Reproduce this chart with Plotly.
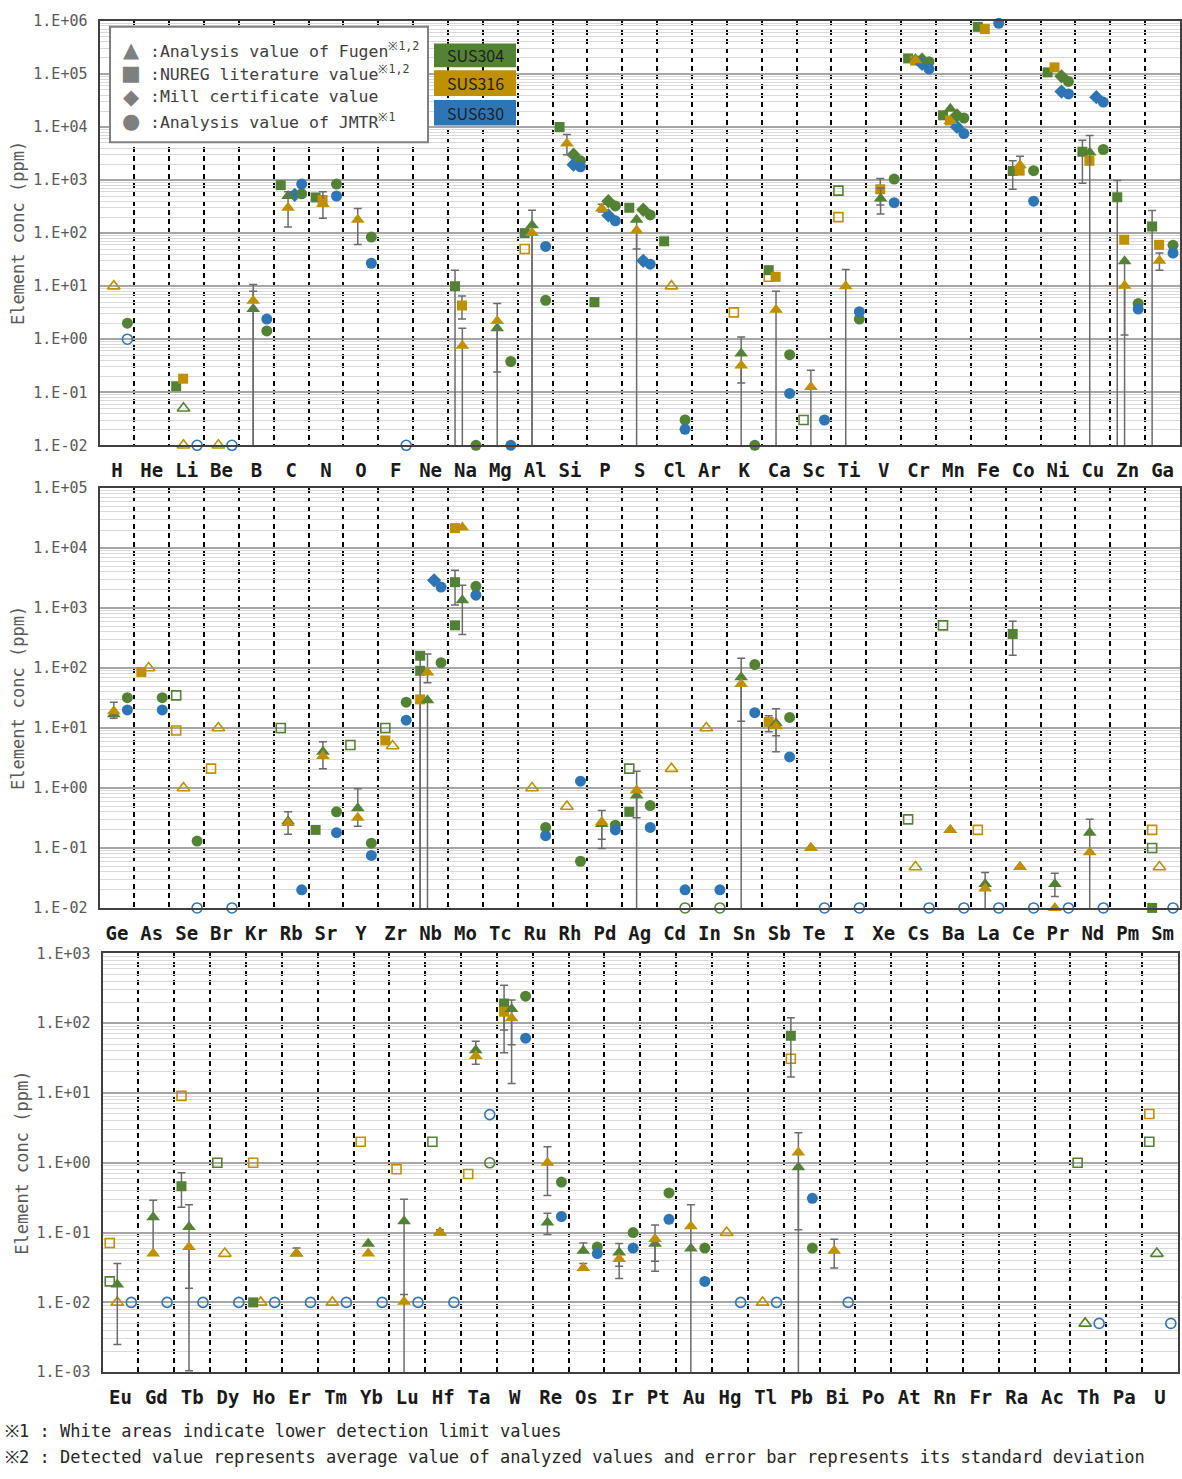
import plotly.graph_objects as go

# ---------------- categories ----------------
PANEL1 = ["H", "He", "Li", "Be", "B", "C", "N", "O", "F", "Ne", "Na", "Mg", "Al", "Si", "P", "S",
          "Cl", "Ar", "K", "Ca", "Sc", "Ti", "V", "Cr", "Mn", "Fe", "Co", "Ni", "Cu", "Zn", "Ga"]
PANEL2 = ["Ge", "As", "Se", "Br", "Kr", "Rb", "Sr", "Y", "Zr", "Nb", "Mo", "Tc", "Ru", "Rh", "Pd", "Ag",
          "Cd", "In", "Sn", "Sb", "Te", "I", "Xe", "Cs", "Ba", "La", "Ce", "Pr", "Nd", "Pm", "Sm"]
PANEL3 = ["Eu", "Gd", "Tb", "Dy", "Ho", "Er", "Tm", "Yb", "Lu", "Hf", "Ta", "W", "Re", "Os", "Ir", "Pt",
          "Au", "Hg", "Tl", "Pb", "Bi", "Po", "At", "Rn", "Fr", "Ra", "Ac", "Th", "Pa", "U"]

# decades shown on each panel's y axis
P1_DECADES = [-2, 6]
P2_DECADES = [-2, 5]
P3_DECADES = [-3, 3]

# ---------------- data (ppm) ----------------
# error bounds: None = no bar, 0 = bar runs below the axis
# Fugen analysis, SUS304 (filled triangles)
F304_EL = ["B", "C", "Mg", "Al", "S", "K", "V", "Cr", "Mn", "Cu", "Zn",
           "Ge", "Rb", "Sr", "Y", "Nb", "Mo", "Pd", "Ag", "Sn", "Sb", "Te", "Ba", "La", "Ce", "Pr", "Nd",
           "Eu", "Gd", "Tb", "Er", "Yb", "Lu", "Hf", "Ta", "W", "Re", "Os", "Ir", "Pt", "Au", "Pb"]
F304_V = [3.7, 500, 1.6, 140, 178, 0.54, 450, 190000, 22000, 3300, 29.5,
          17, 0.28, 4.0, 0.46, 29, 1350, 0.25, 0.75, 70, 12, 0.1, 0.2, 0.025, 0.048, 0.025, 0.18,
          0.018, 0.166, 0.12, 0.05, 0.069, 0.145, 0.1, 41, 160, 0.14, 0.055, 0.052, 0.069, 0.059, 0.86]
F304_HI = [8, None, None, 270, None, 1.1, 700, None, None, 6900, None,
           None, None, 5.9, 0.97, None, 2400, None, None, 145, None, None, None, None, None, 0.038, 0.3,
           0.036, 0.29, 0.25, 0.06, None, 0.3, 0.11, 55, None, 0.19, 0.071, 0.07, None, None, None]
F304_LO = [0, None, 0, 0, 50, 0.15, 230, None, None, 0, 0,
           None, None, 2.1, None, 0, 363, 0.14, 0, 13, 7.4, None, None, None, None, 0.0155, 0,
           0.0025, 0.05, 0.016, None, None, 0, None, 25.7, 49, 0.094, None, 0.022, 0.039, None, 0]

# Fugen analysis, SUS316 (filled triangles)
F316_EL = ["B", "C", "N", "O", "Na", "Mg", "Al", "Si", "P", "S", "K", "Ca", "Sc", "Ti", "Cr", "Mn", "Co",
           "Zn", "Ga",
           "Ge", "Rb", "Sr", "Y", "Nb", "Mo", "Pd", "Ag", "Sn", "Sb", "Te", "Ba", "La", "Ce", "Pr", "Nd",
           "Gd", "Tb", "Er", "Yb", "Lu", "Hf", "Ta", "W", "Re", "Os", "Ir", "Pt", "Au", "Pb", "Bi"]
F316_V = [5.3, 300, 355, 178, 0.75, 2.2, 100, 4900, 290, 112, 0.32, 3.6, 0.125, 10, 180000, 13000, 1900,
          10.2, 30,
          19, 0.26, 3.4, 0.32, 84, 22000, 0.27, 0.92, 54, 10.7, 0.1, 0.2, 0.021, 0.048, 0.01, 0.085,
          0.05, 0.062, 0.05, 0.05, 0.0102, 0.1, 34, 118, 1.0, 0.031, 0.042, 0.081, 0.123, 1.4, 0.055]
F316_HI = [10.7, 600, 600, 290, 1.6, 4.7, None, 7200, 350, None, None, 8, 0.26, 20.5, None, None, 2800,
           None, 42,
           27, 0.4, None, None, 172, None, 0.42, 1.9, None, 21, None, None, 0.039, None, None, None,
           None, None, None, None, 0.013, None, None, 214, 1.7, 0.036, None, 0.128, 0.25, 2.7, 0.08]
F316_LO = [0, 130, 190, 61, 0, 0.24, 0, 3000, 250, 0, 0, 0, 0, 0, None, None, None,
           1.2, 20,
           14.5, 0.17, None, 0.23, 57, None, 0.098, 0.32, 0, 4.0, None, None, 0, None, None, None,
           None, 0.00105, None, None, None, None, None, 13.7, 0.34, None, 0.033, 0.028, 0, 0.11, 0.031]

# Fugen, below detection limit (open triangles)
F304_LDL_EL = ["Li", "Th", "U"]
F304_LDL_V = [0.05, 0.005, 0.05]
F316_LDL_EL = ["H", "Li", "Be", "Cl", "As", "Se", "Br", "Zr", "Ru", "Rh", "Cd", "In", "Cs", "Sm",
               "Eu", "Dy", "Ho", "Tm", "Hg", "Tl"]
F316_LDL_V = [10, 0.01, 0.01, 10, 100, 1.0, 10, 5, 1.0, 0.49, 2.1, 10, 0.048, 0.048,
              0.01, 0.05, 0.01, 0.01, 0.1, 0.01]

# NUREG literature, SUS304 (filled squares)
N304_EL = ["Li", "C", "N", "Na", "Al", "Si", "P", "S", "Cl", "Ca", "Cr", "Mn", "Fe", "Co", "Ni", "Cu",
           "Zn", "Ga",
           "Sr", "Nb", "Nb", "Mo", "Mo", "Ag", "Ce", "Sm",
           "Tb", "Ho", "W", "Pb"]
N304_V = [0.13, 800, 470, 10, 100, 10000, 5, 300, 70, 20, 196000, 16600, 770000, 1480, 107000, 3400,
          473, 133,
          0.2, 160, 90, 2700, 515, 0.4, 370, 0.01,
          0.46, 0.01, 192, 66]
N304_HI = [None, None, None, 20, None, None, None, None, None, None, None, None, None, 2300, None, 5600,
           975, 266,
           None, None, None, 4270, None, None, 600, None,
           0.72, None, 348, 120]
N304_LO = [None, None, None, 0, None, None, None, None, None, None, None, None, None, 670, None, 870,
           0, 0,
           None, 0, None, 1120, None, None, 163, None,
           0.23, None, 37.6, 17]

# NUREG literature, SUS316 (filled squares)
N316_EL = ["Li", "N", "Na", "Ca", "V", "Cr", "Mn", "Fe", "Co", "Ni", "Cu", "Zn", "Ga",
           "As", "Zr", "Nb", "Mo", "Sb", "W"]
N316_V = [0.18, 420, 4.3, 15, 670, 178000, 13300, 700000, 1500, 133000, 2300, 75, 60,
          86, 6.2, 30, 21500, 12.6, 146]
N316_HI = [None, None, 6.5, None, 1070, None, None, None, None, None, None, None, None,
           None, None, None, None, 16, None]
N316_LO = [None, None, 2.4, None, 340, None, None, None, None, None, None, None, None,
           None, None, 0, None, 8.7, 80]

# NUREG, below detection limit (open squares)
N304_LDL_EL = ["Sc", "Ti", "Se", "Rb", "Y", "Zr", "Ag", "Cs", "Ba", "Sm", "Eu", "Dy", "Hf", "Th", "U"]
N304_LDL_V = [0.03, 630, 35, 10, 5.2, 10, 2.1, 0.3, 515, 0.1, 0.02, 1.0, 2.0, 1.0, 2.0]
N316_LDL_EL = ["Al", "K", "Ca", "Ti", "Se", "Br", "La", "Sm", "Eu", "Tb", "Ho", "Yb", "Lu", "Ta", "Pb", "U"]
N316_LDL_V = [50, 3.2, 15, 200, 9.1, 2.1, 0.2, 0.2, 0.071, 9.1, 1.0, 2.0, 0.81, 0.69, 31, 5]

# Mill certificate (diamonds)
M304_EL = ["Si", "P", "S", "Cr", "Mn", "Ni"]
M304_V = [3000, 400, 275, 185000, 16600, 90000]
M630_EL = ["C", "Si", "P", "S", "Cr", "Mn", "Ni", "Cu", "Nb"]
M630_V = [525, 1950, 215, 30, 154000, 10000, 46500, 36500, 2900]

# JMTR analysis (filled circles)
J304_EL = ["H", "B", "C", "N", "O", "Na", "Mg", "Al", "Si", "P", "S", "Cl", "K", "Ca", "Ti", "V", "Cr",
           "Mn", "Co", "Ni", "Cu", "Zn", "Ga",
           "Ge", "As", "Se", "Sr", "Y", "Zr", "Nb", "Mo", "Ru", "Rh", "Pd", "Ag", "Sn", "Sb",
           "W", "Re", "Os", "Ir", "Pt", "Au", "Pb"]
J304_V = [2, 1.43, 550, 840, 84, 0.01, 0.38, 5.4, 2300, 325, 220, 0.03, 0.01, 0.51, 2.4, 1040, 170000,
          14700, 1500, 72000, 3760, 4.7, 59,
          32, 32, 0.13, 0.4, 0.12, 27, 123, 2300, 0.22, 0.06, 0.24, 0.51, 114, 15,
          244, 0.53, 0.062, 0.1, 0.37, 0.06, 0.06]
J630_EL = ["B", "C", "N", "O", "Mg", "Al", "Si", "P", "S", "Cl", "Ca", "Sc", "Ti", "V", "Cr", "Mn", "Fe",
           "Co", "Ni", "Cu", "Zn", "Ga",
           "Ge", "As", "Rb", "Sr", "Y", "Zr", "Nb", "Mo", "Ru", "Rh", "Pd", "Ag", "Cd", "In", "Sn", "Sb",
           "W", "Re", "Os", "Ir", "Pt", "Au", "Pb"]
J630_V = [2.4, 840, 500, 27, 0.01, 56, 1780, 170, 26, 0.02, 0.095, 0.03, 3.3, 375, 124000, 7500, 900000,
          400, 42000, 29400, 3.7, 42,
          20, 20, 0.02, 0.18, 0.075, 13.5, 2240, 1640, 0.16, 1.3, 0.2, 0.22, 0.02, 0.02, 18, 3.3,
          61, 0.17, 0.05, 0.06, 0.155, 0.02, 0.31]

# JMTR, below detection limit (open circles)
J304_LDL_EL = ["Cd", "In", "Ta"]
J304_LDL_V = [0.01, 0.01, 1.0]
J630_LDL_EL = ["H", "Li", "Be", "F", "Se", "Br", "Te", "I", "Cs", "Ba", "La", "Ce", "Pr", "Nd", "Sm",
               "Eu", "Gd", "Tb", "Dy", "Ho", "Er", "Tm", "Yb", "Lu", "Hf", "Ta", "Hg", "Tl", "Bi", "Th", "U"]
J630_LDL_V = [1, 0.01, 0.01, 0.01, 0.01, 0.01, 0.01, 0.01, 0.01, 0.01, 0.01, 0.01, 0.01, 0.01, 0.01,
              0.01, 0.01, 0.01, 0.01, 0.01, 0.01, 0.01, 0.01, 0.01, 0.01, 4.9, 0.01, 0.01, 0.01, 0.005, 0.005]

# ---------------- styling ----------------
W, H = 1182, 1479
GREEN, GOLD, BLUE = "#548235", "#BF9000", "#2E75B6"
STEEL_COLOR = {"304": GREEN, "316": GOLD, "630": BLUE}
MONO = "DejaVu Sans Mono"
ERRC = "#6B6B6B"


def px(x):
    return x / W


def py(y):
    return 1 - y / H


PANELS = [
    dict(els=PANEL1, x0=99.5, x1=1180, y0=12, y1=441.7, dec=P1_DECADES, n316=0.4),
    dict(els=PANEL2, x0=99.5, x1=1180, y0=485, y1=910, dec=P2_DECADES, n316=0.2),
    dict(els=PANEL3, x0=102.6, x1=1178, y0=956, y1=1380, dec=P3_DECADES, n316=0.2),
]

KIND = {
    "F": dict(sym="triangle-up", size=12),
    "N": dict(sym="square", size=10),
    "M": dict(sym="diamond", size=11),
    "J": dict(sym="circle", size=11),
}

fig = go.Figure()


def offset(kind, steel, hollow, p):
    if kind == "F":
        return 0.41
    if kind == "N":
        if hollow or steel == "304":
            return 0.2
        return PANELS[p]["n316"]
    if kind == "M":
        return 0.6
    return 0.8


def add_series(els, vals, kind, steel, hollow=False, his=None, los=None):
    color = STEEL_COLOR[steel]
    k = KIND[kind]
    for p, P in enumerate(PANELS):
        idx = [i for i, e in enumerate(els) if e in P["els"]]
        if not idx:
            continue
        off = offset(kind, steel, hollow, p)
        axis_sfx = "" if p == 0 else str(p + 1)
        bottom = 10 ** (P["dec"][0] - 1)
        for with_err in (False, True):
            sel = [i for i in idx
                   if (his is not None and (his[i] is not None or los[i] is not None)) == with_err]
            if not sel:
                continue
            xs = [P["els"].index(els[i]) + off for i in sel]
            ys = [vals[i] for i in sel]
            if hollow:
                marker = dict(symbol=k["sym"] + "-open", size=k["size"] - 1, color=color,
                              line=dict(color=color, width=1.6))
            else:
                marker = dict(symbol=k["sym"], size=k["size"], color=color, line=dict(width=0))
            tr = dict(x=xs, y=ys, mode="markers", marker=marker, xaxis="x" + axis_sfx,
                      yaxis="y" + axis_sfx, hoverinfo="skip", showlegend=False, cliponaxis=False)
            if with_err:
                plus, minus = [], []
                for i in sel:
                    hi, lo, v = his[i], los[i], vals[i]
                    plus.append(0 if hi is None else hi - v)
                    if lo is None:
                        minus.append(0)
                    else:
                        minus.append(v - (bottom if lo == 0 else lo))
                tr["error_y"] = dict(type="data", symmetric=False, array=plus, arrayminus=minus,
                                     color=ERRC, thickness=1.5, width=4)
                tr["cliponaxis"] = True
            fig.add_trace(go.Scatter(**tr))


# open markers first (below), then filled ones
add_series(N304_LDL_EL, N304_LDL_V, "N", "304", hollow=True)
add_series(N316_LDL_EL, N316_LDL_V, "N", "316", hollow=True)
add_series(F304_LDL_EL, F304_LDL_V, "F", "304", hollow=True)
add_series(F316_LDL_EL, F316_LDL_V, "F", "316", hollow=True)
add_series(J304_LDL_EL, J304_LDL_V, "J", "304", hollow=True)
add_series(J630_LDL_EL, J630_LDL_V, "J", "630", hollow=True)
add_series(N304_EL, N304_V, "N", "304", his=N304_HI, los=N304_LO)
add_series(N316_EL, N316_V, "N", "316", his=N316_HI, los=N316_LO)
add_series(M304_EL, M304_V, "M", "304")
add_series(M630_EL, M630_V, "M", "630")
add_series(J304_EL, J304_V, "J", "304")
add_series(J630_EL, J630_V, "J", "630")
add_series(F304_EL, F304_V, "F", "304", his=F304_HI, los=F304_LO)
add_series(F316_EL, F316_V, "F", "316", his=F316_HI, los=F316_LO)

# ---------------- axes ----------------
layout = dict(width=W, height=H, margin=dict(l=0, r=0, t=0, b=0), paper_bgcolor="white",
              plot_bgcolor="white", showlegend=False)


def dec_label(e):
    return "1.E%s%02d" % ("+" if e >= 0 else "-", abs(e))


for p, P in enumerate(PANELS):
    sfx = "" if p == 0 else str(p + 1)
    n = len(P["els"])
    lo, hi = P["dec"]
    layout["xaxis" + sfx] = dict(
        domain=[px(P["x0"]), px(P["x1"])], range=[0, n], anchor="y" + sfx,
        tickmode="array", tickvals=[i + 0.5 for i in range(n)], ticktext=P["els"],
        tickfont=dict(family=MONO, size=19, color="#1a1a1a", weight="bold"),
        ticks="outside", ticklen=7, tickcolor="rgba(0,0,0,0)",
        showgrid=False, zeroline=False, showline=True, mirror=True, linecolor="#404040", linewidth=2,
        minor=dict(tickmode="array", tickvals=list(range(1, n)), showgrid=True, gridcolor="#000000",
                   gridwidth=2, griddash="5px,4px", ticks=""),
        fixedrange=True,
    )
    layout["yaxis" + sfx] = dict(
        domain=[py(P["y1"]), py(P["y0"])], type="log", range=[lo, hi], anchor="x" + sfx,
        tickmode="array", tickvals=[10 ** e for e in range(lo, hi + 1)],
        ticktext=[dec_label(e) for e in range(lo, hi + 1)],
        tickfont=dict(family=MONO, size=15, color="#595959"),
        ticks="outside", ticklen=7, tickcolor="rgba(0,0,0,0)",
        showgrid=True, gridcolor="#A6A6A6", gridwidth=1.5, zeroline=False,
        showline=True, mirror=True, linecolor="#404040", linewidth=2,
        minor=dict(tickmode="array", tickvals=[m * 10 ** e for e in range(lo, hi) for m in range(2, 10)],
                   showgrid=True, gridcolor="#D9D9D9", gridwidth=1, ticks=""),
        fixedrange=True,
    )

fig.update_layout(**layout)

# ---------------- legend box & annotations ----------------
shapes = [dict(type="rect", xref="paper", yref="paper", x0=px(110), x1=px(428), y0=py(135), y1=py(18),
               fillcolor="white", line=dict(color="#808080", width=2), layer="above")]
for (label, col, ya, yb) in [("SUS304", GREEN, 35, 59), ("SUS316", GOLD, 62, 88), ("SUS630", BLUE, 92, 118)]:
    shapes.append(dict(type="rect", xref="paper", yref="paper", x0=px(434), x1=px(516), y0=py(yb), y1=py(ya),
                       fillcolor=col, line=dict(width=0), layer="above"))
fig.update_layout(shapes=shapes)

ann = []
legend_rows = [("▲", "Analysis value of Fugen<sup>※1,2</sup>", 41),
               ("■", "NUREG literature value<sup>※1,2</sup>", 65),
               ("◆", "Mill certificate value", 89),
               ("●", "Analysis value of JMTR<sup>※1</sup>", 113)]
for sym, txt, yy in legend_rows:
    ann.append(dict(x=px(131), y=py(yy), xref="paper", yref="paper", text=sym, showarrow=False,
                    font=dict(family="DejaVu Sans", size=21, color="#7F7F7F"), xanchor="center", yanchor="middle"))
    ann.append(dict(x=px(148), y=py(yy), xref="paper", yref="paper", text=":" + txt, showarrow=False,
                    font=dict(family=MONO, size=16.5, color="#404040"), xanchor="left", yanchor="middle"))
for (label, yy) in [("SUS304", 47), ("SUS316", 75), ("SUS630", 105)]:
    ann.append(dict(x=px(475), y=py(yy), xref="paper", yref="paper", text=label, showarrow=False,
                    font=dict(family="Noto Sans CJK JP", size=16, color="#1f1f1f"),
                    xanchor="center", yanchor="middle"))

for P, xc in zip(PANELS, [18, 18, 22]):
    ann.append(dict(x=px(xc), y=py((P["y0"] + P["y1"]) / 2), xref="paper", yref="paper",
                    text="Element conc (ppm)", textangle=-90, showarrow=False,
                    font=dict(family=MONO, size=17, color="#595959"), xanchor="center", yanchor="middle"))

ann.append(dict(x=px(3), y=py(1440), xref="paper", yref="paper",
                text="※1 : White areas indicate lower detection limit values", showarrow=False,
                font=dict(family=MONO, size=17, color="#262626"), xanchor="left", yanchor="middle"))
ann.append(dict(x=px(3), y=py(1466), xref="paper", yref="paper",
                text="※2 : Detected value represents average value of analyzed values and error bar represents its standard deviation",
                showarrow=False, font=dict(family=MONO, size=17, color="#262626"), xanchor="left", yanchor="middle"))
fig.update_layout(annotations=ann)

fig.write_html("out.html")
